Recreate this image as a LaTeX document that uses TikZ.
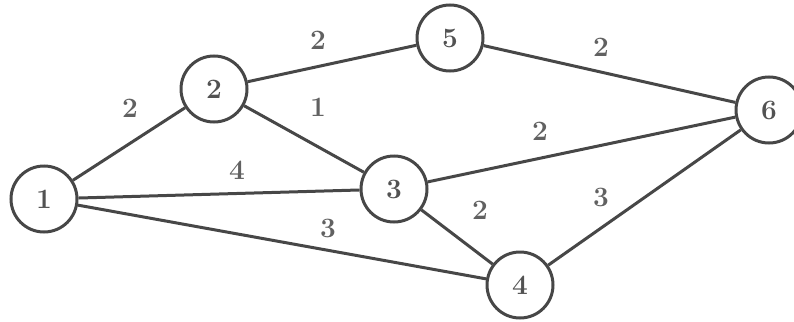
\documentclass[tikz,border=0pt]{standalone}
\begin{document}
\begin{tikzpicture}[x=1pt,y=-1pt,
  vertex/.style={circle,draw=black!72,line width=3pt,minimum size=66pt,inner sep=0pt,
    font=\fontsize{28}{32}\selectfont\bfseries,text=black!68},
  edge/.style={draw=black!72,line width=3pt},
  wlabel/.style={font=\fontsize{28}{32}\selectfont\bfseries,text=black!62}]
\useasboundingbox (0,0) rectangle (794,321);
\node[vertex] (n1) at (44,199) {1};
\node[vertex] (n2) at (214,89) {2};
\node[vertex] (n5) at (450,38) {5};
\node[vertex] (n6) at (769,110) {6};
\node[vertex] (n3) at (394,189) {3};
\node[vertex] (n4) at (520,285) {4};
\draw[edge] (n1) -- (n2);
\draw[edge] (n2) -- (n5);
\draw[edge] (n5) -- (n6);
\draw[edge] (n2) -- (n3);
\draw[edge] (n1) -- (n3);
\draw[edge] (n3) -- (n6);
\draw[edge] (n1) -- (n4);
\draw[edge] (n3) -- (n4);
\draw[edge] (n4) -- (n6);
\node[wlabel] (w12) at (130,108) {2};
\node[wlabel] (w25) at (318,40) {2};
\node[wlabel] (w56) at (601,47) {2};
\node[wlabel] (w23) at (318,107) {1};
\node[wlabel] (w13) at (237,170) {4};
\node[wlabel] (w36) at (540,131) {2};
\node[wlabel] (w14) at (328,228) {3};
\node[wlabel] (w34) at (480,210) {2};
\node[wlabel] (w46) at (601,197) {3};
\end{tikzpicture}
\end{document}
